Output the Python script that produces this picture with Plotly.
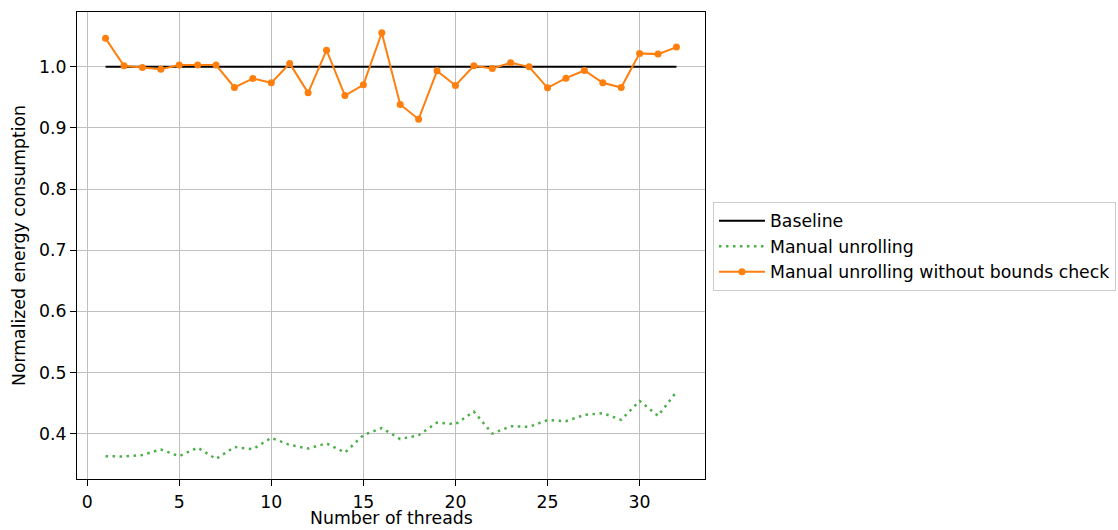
import plotly.graph_objects as go

# Thread counts and normalized energy for each variant
threads = list(range(1, 33))
baseline = [1.0] * 32
manual_unrolling = [
    0.363, 0.3625, 0.365, 0.374, 0.363, 0.377, 0.3585, 0.378,
    0.3745, 0.393, 0.3815, 0.3755, 0.384, 0.369, 0.3975, 0.409,
    0.391, 0.3974, 0.418, 0.4154, 0.436, 0.400, 0.412, 0.411,
    0.422, 0.4203, 0.4306, 0.4334, 0.4225, 0.4536, 0.429, 0.4684,
]
no_bounds_check = [
    1.0466, 1.0016, 0.999, 0.9962, 1.0028, 1.003, 1.003, 0.9662,
    0.981, 0.9738, 1.0055, 0.9574, 1.0273, 0.953, 0.9705, 1.0557,
    0.9384, 0.9143, 0.9934, 0.9695, 1.0016, 0.9973, 1.0066, 1.000,
    0.9656, 0.9815, 0.994, 0.9738, 0.9662, 1.022, 1.0208, 1.0323,
]

FONT = "DejaVu Sans"
FS = 17.3

fig = go.Figure()
fig.add_trace(go.Scatter(
    x=threads, y=baseline, mode="lines", name="Baseline",
    line=dict(color="black", width=2),
))
fig.add_trace(go.Scatter(
    x=threads, y=manual_unrolling, mode="lines", name="Manual unrolling",
    line=dict(color="#4daf4a", width=2.5, dash="2.5px,4.5px"),
))
fig.add_trace(go.Scatter(
    x=threads, y=no_bounds_check, mode="lines+markers",
    name="Manual unrolling without bounds check",
    line=dict(color="#ff7f0e", width=2),
    marker=dict(color="#ff7f0e", size=7),
))

axis_common = dict(
    showline=True, linecolor="black", linewidth=1.2, mirror=True,
    showgrid=True, gridcolor="#c0c0c0", gridwidth=1.2,
    ticks="outside", ticklen=6, tickcolor="black", tickwidth=1.2,
    zeroline=False,
    tickfont=dict(family=FONT, size=FS, color="black"),
)

fig.update_layout(
    width=1118, height=530,
    margin=dict(l=77, r=413, t=12, b=51, autoexpand=False),
    paper_bgcolor="white", plot_bgcolor="white",
    font=dict(family=FONT, size=FS, color="black"),
    xaxis=dict(
        range=[-0.55, 33.55], tick0=0, dtick=5, ticklabelstandoff=1,
        **axis_common,
    ),
    yaxis=dict(
        range=[0.3257, 1.0897], tick0=0.4, dtick=0.1, tickformat=".1f",
        title=dict(text="Normalized energy consumption", font=dict(family=FONT, size=FS), standoff=8),
        **axis_common,
    ),
    legend=dict(
        x=1.0127, y=0.498, xanchor="left", yanchor="middle",
        bgcolor="white", bordercolor="#cccccc", borderwidth=1,
        font=dict(family=FONT, size=FS, color="black"),
        tracegroupgap=0, itemwidth=46,
    ),
    showlegend=True,
)

# x-axis title placed below the tick labels, at the foot of the figure
fig.add_annotation(
    text="Number of threads", xref="paper", yref="paper", x=0.5, y=0,
    xanchor="center", yanchor="bottom", yshift=-51, showarrow=False,
    font=dict(family=FONT, size=FS, color="black"),
)

fig.write_html("out.html")
